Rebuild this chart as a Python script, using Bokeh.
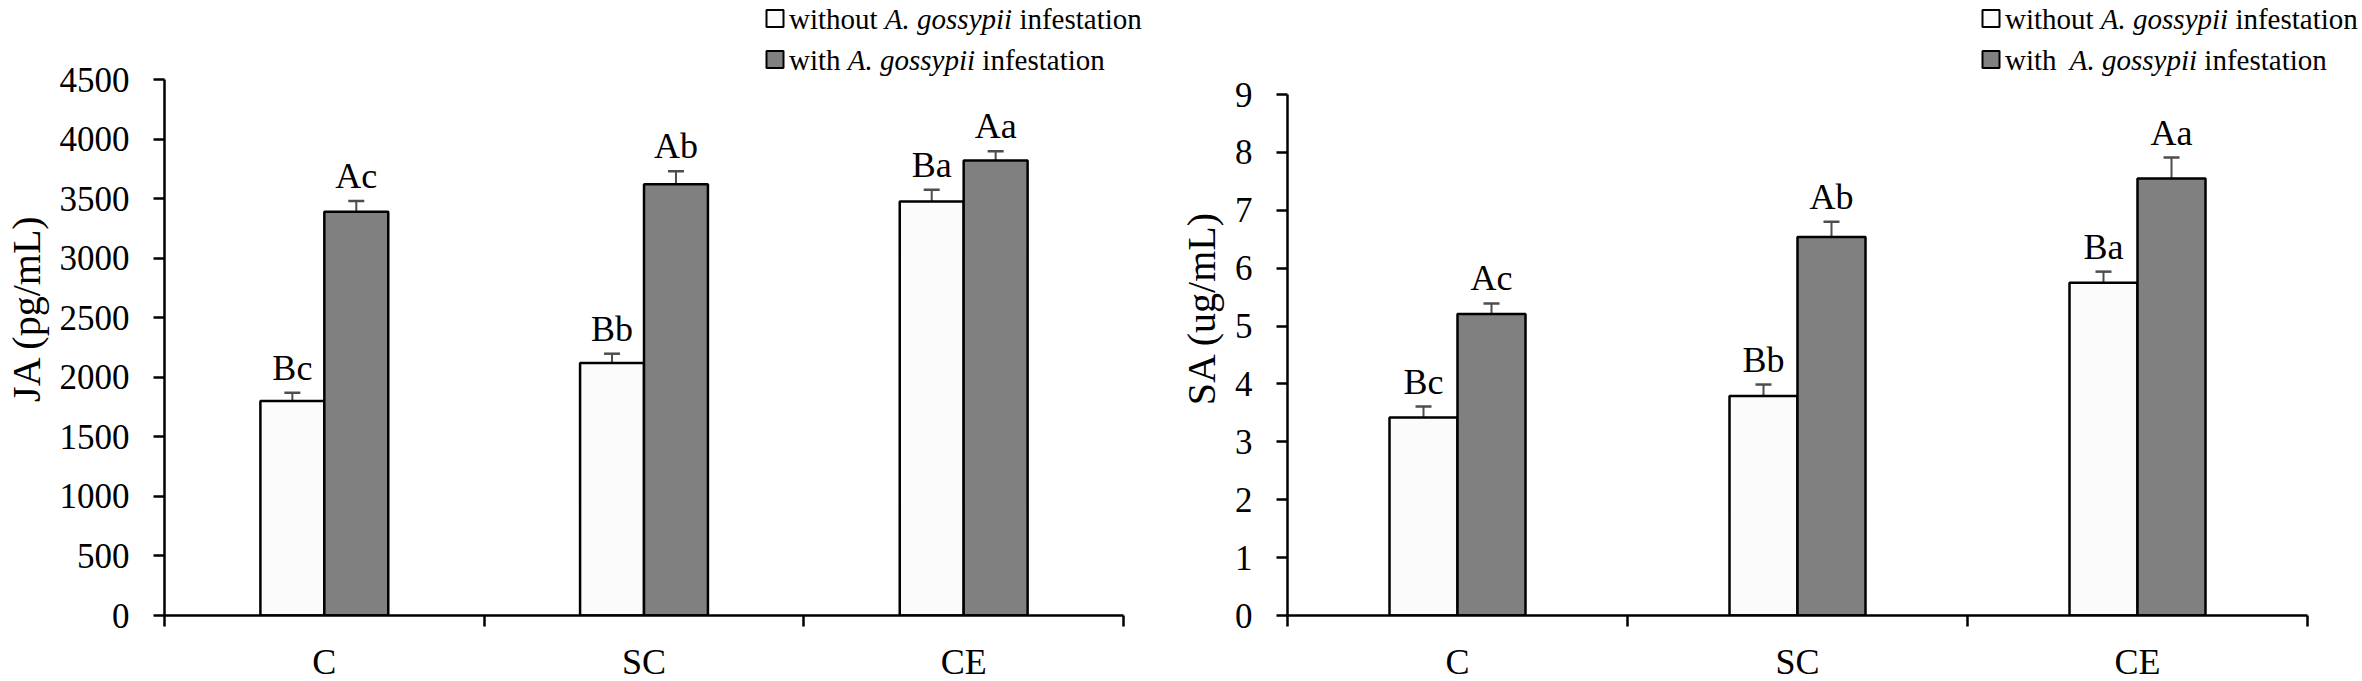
from bokeh.plotting import figure
from bokeh.models import Range1d, FixedTicker, ColumnDataSource, Whisker, TeeHead
from bokeh.layouts import row
from bokeh.embed import file_html
from bokeh.resources import INLINE
from bokeh.core.properties import value

# ---------------- data ----------------
categories = ["C", "SC", "CE"]
legend_without = ["without", "A. gossypii", "infestation"]
legend_with = ["with", "A. gossypii", "infestation"]

ja_without = [1800, 2120, 3475]
ja_without_err = [70, 78, 100]
ja_with = [3390, 3620, 3820]
ja_with_err = [90, 110, 78]
ja_letters_without = ["Bc", "Bb", "Ba"]
ja_letters_with = ["Ac", "Ab", "Aa"]
ja_ticks = [0, 500, 1000, 1500, 2000, 2500, 3000, 3500, 4000, 4500]

sa_without = [3.42, 3.79, 5.75]
sa_without_err = [0.19, 0.20, 0.19]
sa_with = [5.21, 6.54, 7.55]
sa_with_err = [0.18, 0.26, 0.36]
sa_letters_without = ["Bc", "Bb", "Ba"]
sa_letters_with = ["Ac", "Ab", "Aa"]
sa_ticks = [0, 1, 2, 3, 4, 5, 6, 7, 8, 9]

FONT = "Liberation Serif"
WHITE = "#fbfbfb"
GRAY = "#808080"
ERR = "#4d4d4d"

# Times / Liberation Serif advance widths (per 1000 em)
REG = {"w": 722, "i": 278, "t": 278, "h": 500, "o": 500, "u": 500, "n": 500,
       "f": 333, "e": 444, "s": 389, "a": 444, " ": 250}
ITA = {"A": 611, ".": 250, " ": 250, "g": 500, "o": 500, "s": 389, "y": 444,
       "p": 500, "i": 278}


def tw(s, table, size):
    return sum(table.get(c, 500) for c in s) / 1000.0 * size


def make_chart(label, without, without_err, with_, with_err, lw, lwi, ticks,
               fig_width, border_left, px_per_cat, frame_height, zero_px, px_per_unit,
               legend_sq_x, legend_rows_y, with_gap):
    frame_width = fig_width - border_left
    x_end = frame_width / px_per_cat
    y_end = frame_height / px_per_unit
    p = figure(width=fig_width, frame_width=frame_width, frame_height=frame_height,
               x_range=Range1d(0, x_end), y_range=Range1d(0, y_end),
               output_backend="svg", toolbar_location=None,
               min_border_left=border_left, min_border_right=0,
               min_border_top=0, min_border_bottom=0)
    p.outline_line_color = None
    p.xgrid.visible = False
    p.ygrid.visible = False
    p.background_fill_color = "white"
    p.border_fill_color = "white"

    n = len(categories)
    centers = [i + 0.5 for i in range(n)]
    xw = [c - 0.1 for c in centers]
    xg = [c + 0.1 for c in centers]

    p.vbar(x=xw, top=without, bottom=0, width=0.2, fill_color=WHITE,
           line_color="black", line_width=2.5)
    p.vbar(x=xg, top=with_, bottom=0, width=0.2, fill_color=GRAY,
           line_color="black", line_width=2.5)

    for xs, vals, errs, letters in ((xw, without, without_err, lw), (xg, with_, with_err, lwi)):
        src = ColumnDataSource(dict(x=xs, top=vals, up=[v + e for v, e in zip(vals, errs)],
                                    letters=letters))
        p.add_layout(Whisker(base="x", lower="top", upper="up", source=src,
                             line_color=ERR, line_width=2,
                             upper_head=TeeHead(size=16, line_color=ERR, line_width=2.5),
                             lower_head=None))
        p.text(x="x", y="up", text="letters", source=src, text_align="center",
               text_baseline="bottom", y_offset=-5,
               text_font=value(FONT), text_font_size="36px", text_color="black")

    # axes
    xa = p.xaxis[0]
    xa.bounds = (0, n)
    xa.ticker = FixedTicker(ticks=centers, minor_ticks=list(range(n + 1)))
    xa.major_label_overrides = {c: lab for c, lab in zip(centers, categories)}
    xa.major_tick_line_color = None
    xa.major_tick_out = 0
    xa.major_tick_in = 0
    xa.minor_tick_line_color = "black"
    xa.minor_tick_line_width = 2.5
    xa.minor_tick_out = 11
    xa.minor_tick_in = 0
    xa.axis_line_width = 2.5
    xa.axis_line_color = "black"
    xa.major_label_standoff = 15
    xa.major_label_text_font = FONT
    xa.major_label_text_font_size = "36px"
    xa.major_label_text_color = "black"

    ya = p.yaxis[0]
    ya.bounds = (ticks[0], ticks[-1])
    ya.ticker = FixedTicker(ticks=ticks)
    ya.minor_tick_line_color = None
    ya.major_tick_out = 11
    ya.major_tick_in = 0
    ya.major_tick_line_width = 2.5
    ya.major_tick_line_color = "black"
    ya.axis_line_width = 2.5
    ya.axis_line_color = "black"
    ya.major_label_standoff = 24
    ya.major_label_text_font = FONT
    ya.major_label_text_font_size = "35px"
    ya.major_label_text_color = "black"
    ya.axis_label = label
    ya.axis_label_text_font = FONT
    ya.axis_label_text_font_size = "40px"
    ya.axis_label_text_font_style = "normal"
    ya.axis_label_text_color = "black"
    ya.axis_label_standoff = 8

    # legend (manual, mixed italic)
    fs = 29
    lx = legend_sq_x / px_per_cat
    for (words, fill, gap), ry in zip(((legend_without, WHITE, 0), (legend_with, GRAY, with_gap)),
                                     legend_rows_y):
        ly = (zero_px - ry) / px_per_unit
        p.rect(x=[lx], y=[ly], width=17, height=17, width_units="screen",
               height_units="screen", fill_color=fill, line_color="black", line_width=2)
        off0 = 14.0
        off1 = off0 + tw(words[0] + " ", REG, fs) + gap
        off2 = off1 + tw(words[1] + " ", ITA, fs)
        for word, off, style in ((words[0], off0, "normal"), (words[1], off1, "italic"),
                                 (words[2], off2, "normal")):
            p.text(x=[lx], y=[ly], text=[word], x_offset=off, text_align="left",
                   text_baseline="middle", text_font=value(FONT),
                   text_font_size=f"{fs}px", text_font_style=style, text_color="black")
    return p


# left chart: page x 0..1165, frame left at page 164
p1 = make_chart("JA (pg/mL)", ja_without, ja_without_err, ja_with, ja_with_err,
                ja_letters_without, ja_letters_with, ja_ticks,
                fig_width=1165, border_left=164, px_per_cat=319.67,
                frame_height=615, zero_px=615, px_per_unit=(615 - 79) / 4500,
                legend_sq_x=774.5 - 164, legend_rows_y=(18, 59), with_gap=0)
# right chart: page x 1165..2361, frame left at page 1287
p2 = make_chart("SA (ug/mL)", sa_without, sa_without_err, sa_with, sa_with_err,
                sa_letters_without, sa_letters_with, sa_ticks,
                fig_width=1196, border_left=122, px_per_cat=340.0,
                frame_height=615, zero_px=615, px_per_unit=(615 - 94) / 9,
                legend_sq_x=1990.5 - 1287, legend_rows_y=(18, 59), with_gap=6)

layout = row(p1, p2, spacing=0)
open("out.html", "w").write(file_html(layout, INLINE))
